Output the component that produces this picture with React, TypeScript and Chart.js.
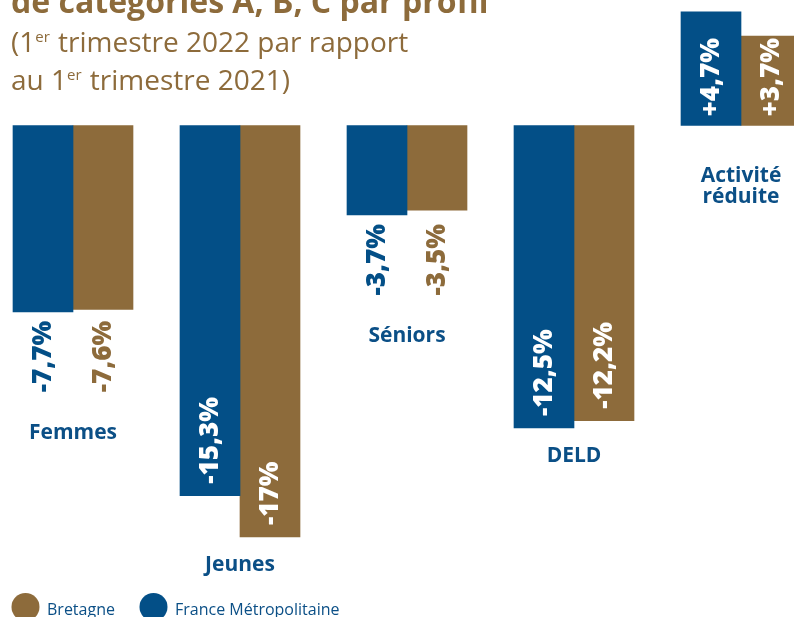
import { useEffect, useRef } from 'react';
import { Chart, registerables } from 'chart.js';

Chart.register(...registerables);

// ---- data ----
const categories: string[][] = [['Femmes'], ['Jeunes'], ['Séniors'], ['DELD'], ['Activité', 'réduite']];
const franceValues = [-7.7, -15.3, -3.7, -12.5, 4.7];
const bretagneValues = [-7.6, -17, -3.5, -12.2, 3.7];
const seriesNames = ['France Métropolitaine', 'Bretagne'];
const legendOrder = ['Bretagne', 'France Métropolitaine'];
const titleText = 'de catégories A, B, C par profil';
const subtitleLines: string[][] = [
  ['(1', 'er', ' trimestre 2022 par rapport'],
  ['au 1', 'er', ' trimestre 2021)'],
];
const yMin = -20;
const yMax = 5;

// ---- style ----
const BLUE = '#034F87';
const BROWN = '#8D6B3B';
const TEXT_BLUE = '#0B4F86';
const OFFSET = 11;
const FONT = '"Open Sans", "Noto Sans", sans-serif';

const fmt = (v: number) => (v > 0 ? '+' : '') + String(v).replace('.', ',') + '%';

const annotate = {
  id: 'annotate',
  afterDatasetsDraw(chart: any) {
    const ctx: CanvasRenderingContext2D = chart.ctx;
    const m0 = chart.getDatasetMeta(0);
    const m1 = chart.getDatasetMeta(1);
    const colors = [BLUE, BROWN];
    ctx.save();
    categories.forEach((lines, i) => {
      const bars = [m0.data[i], m1.data[i]];
      const vals = [franceValues[i], bretagneValues[i]];
      const base = bars[0].base;
      const positive = vals[0] >= 0;
      const inside = positive || Math.abs(Math.min(...vals)) >= 10;
      const groupEnd = positive ? base : Math.max(bars[0].y, bars[1].y);
      let textBottom = 0;
      bars.forEach((b: any, k: number) => {
        const txt = fmt(vals[k]);
        ctx.font = `800 26px ${FONT}`;
        const w = ctx.measureText(txt).width;
        let anchorY: number;
        let align: CanvasTextAlign;
        let color: string;
        if (positive) {
          anchorY = base - 9;
          align = 'left';
          color = '#ffffff';
        } else if (inside) {
          anchorY = b.y - 12;
          align = 'left';
          color = '#ffffff';
        } else {
          anchorY = groupEnd + 9;
          align = 'right';
          color = colors[k];
          textBottom = Math.max(textBottom, anchorY + w);
        }
        ctx.save();
        ctx.translate(b.x, anchorY);
        ctx.rotate(-Math.PI / 2);
        ctx.textAlign = align;
        ctx.textBaseline = 'middle';
        ctx.fillStyle = color;
        ctx.fillText(txt, 0, 1);
        ctx.restore();
      });
      const capTop = positive ? base + 41 : inside ? groupEnd + 19 : textBottom + 32;
      const cx = (bars[0].x + bars[1].x) / 2;
      ctx.font = `bold 21px ${FONT}`;
      ctx.fillStyle = TEXT_BLUE;
      ctx.textAlign = 'center';
      ctx.textBaseline = 'alphabetic';
      lines.forEach((ln, j) => ctx.fillText(ln, cx, capTop + 15 + j * 21));
    });

    // title & subtitle in window coordinates
    ctx.translate(OFFSET, 0);
    ctx.textAlign = 'left';
    ctx.textBaseline = 'alphabetic';
    ctx.fillStyle = BROWN;
    ctx.font = `bold 32px ${FONT}`;
    ctx.fillText(titleText, 11, 13);
    subtitleLines.forEach((parts, j) => {
      const y = 52 + j * 38;
      let x = 11;
      parts.forEach((p, k) => {
        const sup = k === 1;
        ctx.font = sup ? `15px ${FONT}` : `28px ${FONT}`;
        ctx.fillText(p, x, sup ? y - 10 : y);
        x += ctx.measureText(p).width + (sup ? 1 : 0);
      });
    });

    // legend
    const legendColors: Record<string, string> = { Bretagne: BROWN, 'France Métropolitaine': BLUE };
    const legendX = [25.5, 153.5];
    legendOrder.forEach((name, k) => {
      ctx.beginPath();
      ctx.fillStyle = legendColors[name];
      ctx.arc(legendX[k], 607, 14, 0, Math.PI * 2);
      ctx.fill();
      ctx.font = `16px ${FONT}`;
      ctx.fillStyle = TEXT_BLUE;
      ctx.fillText(name, legendX[k] + 21.5, 615);
    });
    ctx.restore();
  },
};

export default function App() {
  const ref = useRef<HTMLCanvasElement | null>(null);
  useEffect(() => {
    if (!ref.current) return;
    const chart = new Chart(ref.current, {
      type: 'bar',
      data: {
        labels: categories,
        datasets: [
          { label: seriesNames[0], data: franceValues, backgroundColor: BLUE, barThickness: 60 },
          { label: seriesNames[1], data: bretagneValues, backgroundColor: BROWN, barThickness: 60 },
        ],
      },
      options: {
        responsive: false,
        devicePixelRatio: 1,
        animation: false,
        layout: { padding: { left: 0.5, right: 10.5, top: 4.5, bottom: 7.5 } },
        scales: {
          x: { display: false },
          y: { display: false, min: yMin, max: yMax },
        },
        plugins: {
          legend: { display: false },
          tooltip: { enabled: false },
        },
      },
      plugins: [annotate],
    });
    return () => chart.destroy();
  }, []);
  return (
    <div style={{ position: 'fixed', left: 0, top: 0, width: 794, height: 617, overflow: 'hidden', background: '#fff' }}>
      <canvas
        ref={ref}
        width={846}
        height={617}
        style={{ position: 'absolute', left: -OFFSET, top: 0, width: 846, height: 617 }}
      />
    </div>
  );
}
